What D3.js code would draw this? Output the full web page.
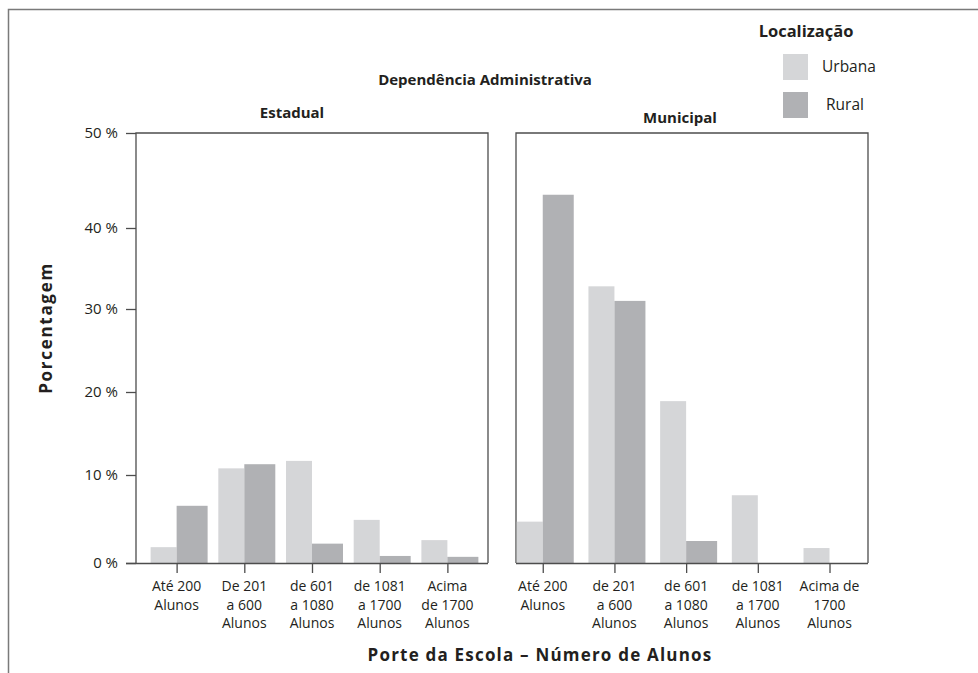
<!DOCTYPE html>
<html><head><meta charset="utf-8">
<script src="https://cdn.jsdelivr.net/npm/d3@7"></script>
<style>
  body { margin: 0; background: #fff; }
  text { font-family: "Open Sans", sans-serif; fill: #231f20; }
  .bold { font-weight: bold; }
  .axis path, .axis line { stroke: #4d4d4d; stroke-width: 1.3px; }
  .axis text { font-size: 15px; fill: #231f20; }
</style>
</head>
<body>
<svg id="chart" width="978" height="673"></svg>
<script>

// Data (percent of schools)
const catsEstadual = [["Até 200", "Alunos"], ["De 201", "a 600", "Alunos"], ["de 601", "a 1080", "Alunos"],
                      ["de 1081", "a 1700", "Alunos"], ["Acima", "de 1700", "Alunos"]];
const catsMunicipal = [["Até 200", "Alunos"], ["de 201", "a 600", "Alunos"], ["de 601", "a 1080", "Alunos"],
                       ["de 1081", "a 1700", "Alunos"], ["Acima de", "1700", "Alunos"]];
const estadualUrbana = [1.8, 10.8, 11.7, 4.9, 2.6];
const estadualRural  = [6.5, 11.3, 2.2, 0.8, 0.7];
const municipalUrbana = [4.7, 32.8, 18.9, 7.7, 1.7];
const municipalRural  = [43.5, 31.0, 2.5, 0, 0];
const yTicks = [0, 10, 20, 30, 40, 50];
const yTickLabels = ["0 %", "10 %", "20 %", "30 %", "40 %", "50 %"];
const seriesNames = ["Urbana", "Rural"];
const colors = ["#d5d6d8", "#b0b1b4"];

const svg = d3.select("#chart");

// outer frame (left + top)
svg.append("path").attr("d", "M8.5,673V9.5H978").attr("fill", "none")
   .attr("stroke", "#7a7a7a").attr("stroke-width", 1.5);

// the scanned axis is not quite linear, so use the tick positions as a piecewise scale
const y = d3.scaleLinear().domain(yTicks).range([563, 475, 392, 309, 228, 133]);

const panels = [
  { name: "Estadual", x0: 136, x1: 488, pad: 0.6, align: 0.5, titleX: 292, titleY: 118,
    cats: catsEstadual, urb: estadualUrbana, rur: estadualRural, yAxis: true },
  { name: "Municipal", x0: 516, x1: 868, pad: 0.455, align: 0.41, titleX: 680, titleY: 123,
    cats: catsMunicipal, urb: municipalUrbana, rur: municipalRural, yAxis: false }
];

panels.forEach(p => {
  const g = svg.append("g");
  const x = d3.scalePoint().domain(d3.range(p.cats.length)).range([p.x0, p.x1])
              .padding(p.pad).align(p.align);

  // box
  g.append("path")
   .attr("d", `M${p.x0},${y(0)}V${y(50)}H${p.x1}V${y(0)}`)
   .attr("fill", "none").attr("stroke", "#4d4d4d").attr("stroke-width", 1.3);

  // bars
  const rows = p.cats.map((c, i) => ({ i, urb: p.urb[i], rur: p.rur[i] }));
  g.selectAll("rect.urb").data(rows).join("rect").attr("class", "urb")
   .attr("x", d => x(d.i) - 26).attr("width", 26)
   .attr("y", d => y(d.urb)).attr("height", d => y(0) - y(d.urb))
   .attr("fill", colors[0]);
  g.selectAll("rect.rur").data(rows.filter(d => d.rur > 0)).join("rect").attr("class", "rur")
   .attr("x", d => x(d.i)).attr("width", 31)
   .attr("y", d => y(d.rur)).attr("height", d => y(0) - y(d.rur))
   .attr("fill", colors[1]);

  // x axis
  const xa = g.append("g").attr("class", "axis")
    .attr("transform", `translate(0,${y(0)})`)
    .call(d3.axisBottom(x).tickSize(10).tickSizeOuter(0).tickFormat(""));
  xa.select(".domain").attr("d", `M${p.yAxis ? p.x0 - 10 : p.x0},0.5H${p.x1}`);

  const lab = g.selectAll("text.xlab").data(p.cats).join("text").attr("class", "xlab")
    .attr("text-anchor", "middle").attr("font-size", 14)
    .attr("transform", (d, i) => `translate(${x(i)},${y(0) + 28})`);
  lab.selectAll("tspan").data(d => d).join("tspan")
    .attr("x", 0).attr("dy", (d, i) => i === 0 ? 0 : 18.5).text(d => d);

  // y axis
  if (p.yAxis) {
    const ya = g.append("g").attr("class", "axis")
      .attr("transform", `translate(${p.x0},0)`)
      .call(d3.axisLeft(y).tickValues(yTicks).tickSize(10).tickSizeOuter(0).tickPadding(8)
              .tickFormat((d, i) => yTickLabels[i]));
    ya.select(".domain").remove();
  }

  // panel title
  svg.append("text").attr("class", "bold").attr("x", p.titleX).attr("y", p.titleY)
     .attr("text-anchor", "middle").attr("font-size", 15).text(p.name);
});

// titles
svg.append("text").attr("class", "bold").attr("x", 485).attr("y", 85)
   .attr("text-anchor", "middle").attr("font-size", 15).text("Dependência Administrativa");
svg.append("text").attr("class", "bold").attr("x", 540).attr("y", 661)
   .attr("text-anchor", "middle").attr("font-size", 17).attr("letter-spacing", 1.2)
   .text("Porte da Escola – Número de Alunos");
svg.append("text").attr("class", "bold")
   .attr("transform", "translate(52,328) rotate(-90)")
   .attr("text-anchor", "middle").attr("font-size", 17).attr("letter-spacing", 1.7)
   .text("Porcentagem");

// legend
svg.append("text").attr("class", "bold").attr("x", 806).attr("y", 37)
   .attr("text-anchor", "middle").attr("font-size", 16.5).text("Localização");
const leg = svg.selectAll("g.leg").data(seriesNames).join("g").attr("class", "leg")
   .attr("transform", (d, i) => `translate(783,${54 + i * 38})`);
leg.append("rect").attr("width", 25).attr("height", 26).attr("fill", (d, i) => colors[i]);
leg.append("text").attr("x", (d, i) => i === 0 ? 39 : 43).attr("y", 18)
   .attr("font-size", 15.5).text(d => d);

</script>
</body>
</html>
